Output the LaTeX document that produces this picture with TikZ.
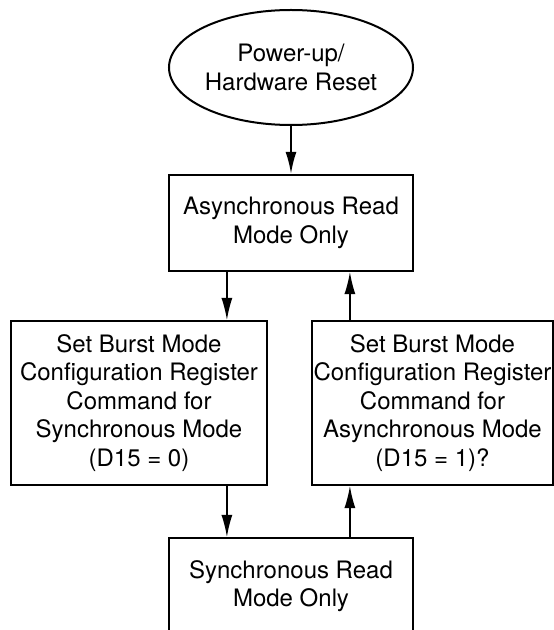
\documentclass[tikz,border=0pt]{standalone}
\usepackage{fontspec}
\setmainfont{TeX Gyre Heros}
\usetikzlibrary{arrows.meta,shapes.geometric,calc}

\begin{document}
\begin{tikzpicture}[x=1pt,y=1pt]
\tikzset{every node/.style={font=\fontsize{24}{28.5}\selectfont, align=center, inner sep=0pt}}
\tikzset{box/.style={draw, line width=2.2pt, rectangle}}
\tikzset{flow/.style={line width=1.3pt, -{Latex[length=22pt,width=11pt]}}}
\useasboundingbox (0,0) rectangle (554,630);

\node[draw, ellipse, line width=2pt, minimum width=244, minimum height=115](reset) at (291,562.5) {Power-up/\\Hardware Reset};
\node[box, minimum width=244, minimum height=96](asyncread) at (291,407) {Asynchronous Read\\Mode Only};
\node[box, minimum width=256, minimum height=164](syncset) at (139,227) {Set Burst Mode\\Configuration Register\\Command for\\Synchronous Mode\\(D15 = 0)};
\node[box, minimum width=241, minimum height=164](asyncset) at (432.5,227) {Set Burst Mode\\Configuration Register\\Command for\\Asynchronous Mode\\(D15 = 1)?};
\node[box, minimum width=244, minimum height=96](syncread) at (291,44) {Synchronous Read\\Mode Only};

\coordinate(down) at ($(asyncread.south west) + (59,0)$);
\coordinate(up) at ($(asyncread.south west) + (182,0)$);
\draw[flow, line width=2pt] (reset.south) -- (asyncread.north);
\draw[flow] (down) -- (down |- syncset.north);
\draw[flow] (down |- syncset.south) -- (down |- syncread.north);
\draw[flow] (up |- syncread.north) -- (up |- asyncset.south);
\draw[flow] (up |- asyncset.north) -- (up);
\end{tikzpicture}
\end{document}
